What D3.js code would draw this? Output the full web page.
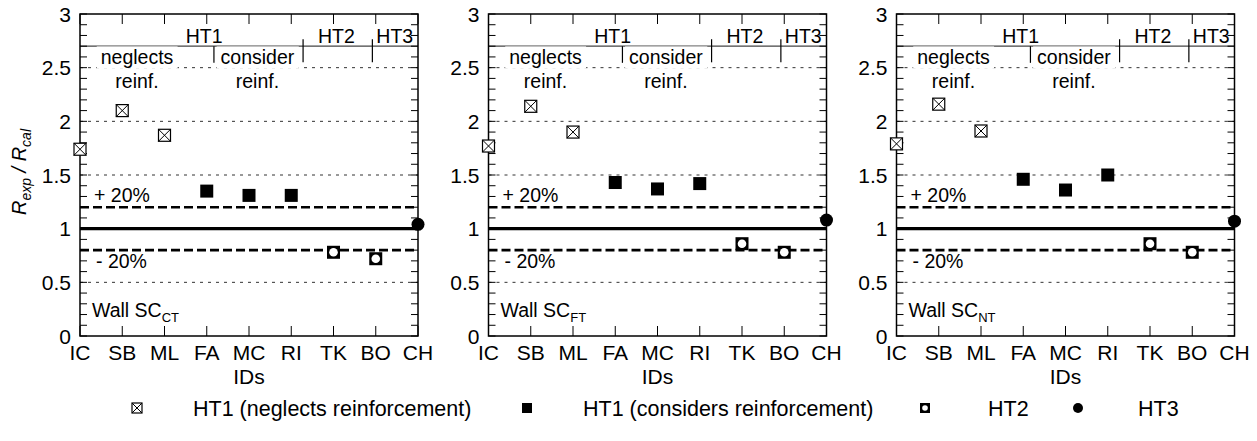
<!DOCTYPE html>
<html>
<head>
<meta charset="utf-8">
<script src="https://cdn.jsdelivr.net/npm/d3@7"></script>
<style>
  html, body { margin: 0; padding: 0; background: #fff; }
  svg { display: block; font-family: "Liberation Sans", Arial, Helvetica, sans-serif; }
  .tick-label { font-size: 21px; fill: #000; }
  .note { font-size: 19.5px; fill: #000; }
  .legend-label { font-size: 21.5px; fill: #000; }
</style>
</head>
<body>
<svg id="chart" width="1257" height="441" viewBox="0 0 1257 441"></svg>
<script>
const ids = ["IC", "SB", "ML", "FA", "MC", "RI", "TK", "BO", "CH"];
const groupOf = ["neg", "neg", "neg", "con", "con", "con", "ht2", "ht2", "ht3"];
const ratioCT = [1.74, 2.10, 1.87, 1.35, 1.31, 1.31, 0.78, 0.72, 1.04];
const ratioFT = [1.77, 2.14, 1.90, 1.43, 1.37, 1.42, 0.86, 0.78, 1.08];
const ratioNT = [1.79, 2.16, 1.91, 1.46, 1.36, 1.50, 0.86, 0.78, 1.07];
const wallNames = ["CT", "FT", "NT"];
const yTickValues = [0, 0.5, 1, 1.5, 2, 2.5, 3];
const gridValues = [0.5, 1.5, 2, 2.5];
const boundValues = [0.8, 1.2];
const headerLevel = 2.7;
const headerGroups = [
  { label: "HT1", at: 2.94 },
  { label: "HT2", at: 6.07 },
  { label: "HT3", at: 7.45 }
];
const subGroups = [
  { lines: ["neglects", "reinf."], at: 1.35 },
  { lines: ["consider", "reinf."], at: 4.2 }
];
const dividers = [
  { at: 3.17, top: 2.7, bottom: 2.545 },
  { at: 5.28, top: 2.765, bottom: 2.55 },
  { at: 6.92, top: 2.765, bottom: 2.55 }
];
const legendItems = [
  { group: "neg", label: "HT1 (neglects reinforcement)" },
  { group: "con", label: "HT1 (considers reinforcement)" },
  { group: "ht2", label: "HT2" },
  { group: "ht3", label: "HT3" }
];

const svg = d3.select("#chart");
const panelLefts = [80, 488.5, 896.5];
const panelWidth = 338;
const plotTop = 14;
const plotBottom = 336;

const y = d3.scaleLinear().domain([0, 3]).range([plotBottom, plotTop]);

function drawMarker(g, group, size) {
  const h = size / 2;
  if (group === "neg") {
    g.append("rect").attr("x", -h).attr("y", -h).attr("width", size).attr("height", size)
      .attr("fill", "#fff").attr("stroke", "#000").attr("stroke-width", 1.2);
    g.append("path").attr("d", `M${-h},${-h}L${h},${h}M${h},${-h}L${-h},${h}`)
      .attr("stroke", "#000").attr("stroke-width", 1);
  } else if (group === "con") {
    g.append("rect").attr("x", -h).attr("y", -h).attr("width", size).attr("height", size)
      .attr("fill", "#000");
  } else if (group === "ht2") {
    g.append("rect").attr("x", -h).attr("y", -h).attr("width", size).attr("height", size)
      .attr("fill", "#000");
    g.append("circle").attr("r", h - 2.2).attr("fill", "#fff");
  } else {
    g.append("circle").attr("r", h).attr("fill", "#000");
  }
}

function renderPanel(left, values, wallName) {
  const right = left + panelWidth;
  const x = d3.scalePoint().domain(ids).range([left, right]).padding(0);
  const xi = d3.scaleLinear().domain([0, ids.length - 1]).range([left, right]);
  const g = svg.append("g");

  // thin dashed grid
  g.append("g").selectAll("line").data(gridValues).join("line")
    .attr("x1", left).attr("x2", right)
    .attr("y1", d => y(d)).attr("y2", d => y(d))
    .attr("stroke", "#333").attr("stroke-width", 1).attr("stroke-dasharray", "3,5");

  // +/-20% bounds
  g.append("g").selectAll("line").data(boundValues).join("line")
    .attr("x1", left).attr("x2", right)
    .attr("y1", d => y(d)).attr("y2", d => y(d))
    .attr("stroke", "#000").attr("stroke-width", 2.6).attr("stroke-dasharray", "9,4");

  g.append("line")
    .attr("x1", left).attr("x2", right)
    .attr("y1", y(1)).attr("y2", y(1))
    .attr("stroke", "#000").attr("stroke-width", 3.2);

  // header
  g.append("line")
    .attr("x1", left).attr("x2", right)
    .attr("y1", y(headerLevel)).attr("y2", y(headerLevel))
    .attr("stroke", "#444").attr("stroke-width", 1.3);

  g.append("g").selectAll("text").data(headerGroups).join("text")
    .attr("class", "note")
    .attr("x", d => xi(d.at))
    .attr("y", y(2.73))
    .attr("text-anchor", "middle")
    .text(d => d.label);

  subGroups.forEach(sub => {
    const sg = g.append("g");
    const bg = sg.append("rect").attr("fill", "#fff");
    const t1 = sg.append("text").attr("class", "note")
      .attr("x", xi(sub.at)).attr("y", y(2.53)).attr("text-anchor", "middle")
      .text(sub.lines[0]);
    sg.append("text").attr("class", "note")
      .attr("x", xi(sub.at)).attr("y", y(2.315)).attr("text-anchor", "middle")
      .text(sub.lines[1]);
    const box = t1.node().getBBox();
    bg.attr("x", box.x - 4).attr("y", box.y).attr("width", box.width + 8).attr("height", box.height);
  });

  g.append("g").selectAll("line").data(dividers).join("line")
    .attr("x1", d => xi(d.at)).attr("x2", d => xi(d.at))
    .attr("y1", d => y(d.top)).attr("y2", d => y(d.bottom))
    .attr("stroke", "#000").attr("stroke-width", 1.2);

  // frame and ticks
  const minorTicks = d3.range(0, 31).map(i => i / 10);
  [left, right].forEach((edge, k) => {
    g.append("g").selectAll("line").data(minorTicks).join("line")
      .attr("x1", edge).attr("x2", edge + (k === 0 ? 7 : -7))
      .attr("y1", d => y(d)).attr("y2", d => y(d))
      .attr("stroke", "#000").attr("stroke-width", 1);
  });
  [plotBottom, plotTop].forEach((edge, k) => {
    g.append("g").selectAll("line").data(ids).join("line")
      .attr("x1", d => x(d)).attr("x2", d => x(d))
      .attr("y1", edge).attr("y2", edge + (k === 0 ? -10 : 10))
      .attr("stroke", "#000").attr("stroke-width", 1);
  });
  g.append("rect")
    .attr("x", left).attr("y", plotTop)
    .attr("width", panelWidth).attr("height", plotBottom - plotTop)
    .attr("fill", "none").attr("stroke", "#000").attr("stroke-width", 1.5);

  g.append("g").selectAll("text").data(yTickValues).join("text")
    .attr("class", "tick-label")
    .attr("x", left - 9).attr("y", d => y(d))
    .attr("dy", "0.36em").attr("text-anchor", "end")
    .text(d => d);

  g.append("g").selectAll("text").data(ids).join("text")
    .attr("class", "tick-label")
    .attr("x", d => x(d)).attr("y", plotBottom + 24)
    .attr("text-anchor", "middle")
    .text(d => d);

  g.append("text").attr("class", "tick-label")
    .attr("x", (left + right) / 2).attr("y", plotBottom + 48)
    .attr("text-anchor", "middle")
    .text("IDs");

  // notes
  g.append("text").attr("class", "note")
    .attr("x", left + 14).attr("y", y(1.25))
    .text("+ 20%");
  g.append("text").attr("class", "note")
    .attr("x", left + 16).attr("y", y(0.63))
    .text("- 20%");
  const wall = g.append("text").attr("class", "note")
    .attr("x", left + 12).attr("y", y(0.175));
  wall.append("tspan").text("Wall SC");
  wall.append("tspan").attr("font-size", "13px").attr("dy", 5).text(wallName);

  // points
  ids.forEach((id, i) => {
    const m = g.append("g").attr("transform", `translate(${x(id)},${y(values[i])})`);
    drawMarker(m, groupOf[i], groupOf[i] === "neg" ? 12 : 13);
  });
}

renderPanel(panelLefts[0], ratioCT, wallNames[0]);
renderPanel(panelLefts[1], ratioFT, wallNames[1]);
renderPanel(panelLefts[2], ratioNT, wallNames[2]);

// y axis title
const yTitle = svg.append("text")
  .attr("transform", "translate(26,172) rotate(-90)")
  .attr("text-anchor", "middle")
  .attr("font-size", "20px")
  .attr("font-style", "italic");
yTitle.append("tspan").text("R");
yTitle.append("tspan").attr("font-size", "14px").attr("dy", 5).text("exp");
yTitle.append("tspan").attr("dy", -5).text(" / R");
yTitle.append("tspan").attr("font-size", "14px").attr("dy", 5).text("cal");

// legend
const legendMarkerX = [137, 527, 925, 1078];
const legendTextX = [193, 583, 988, 1138];
const legendY = 408;
legendItems.forEach((item, i) => {
  const m = svg.append("g").attr("transform", `translate(${legendMarkerX[i]},${legendY})`);
  drawMarker(m, item.group, 10);
  svg.append("text").attr("class", "legend-label")
    .attr("x", legendTextX[i]).attr("y", legendY)
    .attr("dy", "0.36em")
    .text(item.label);
});
</script>
</body>
</html>
